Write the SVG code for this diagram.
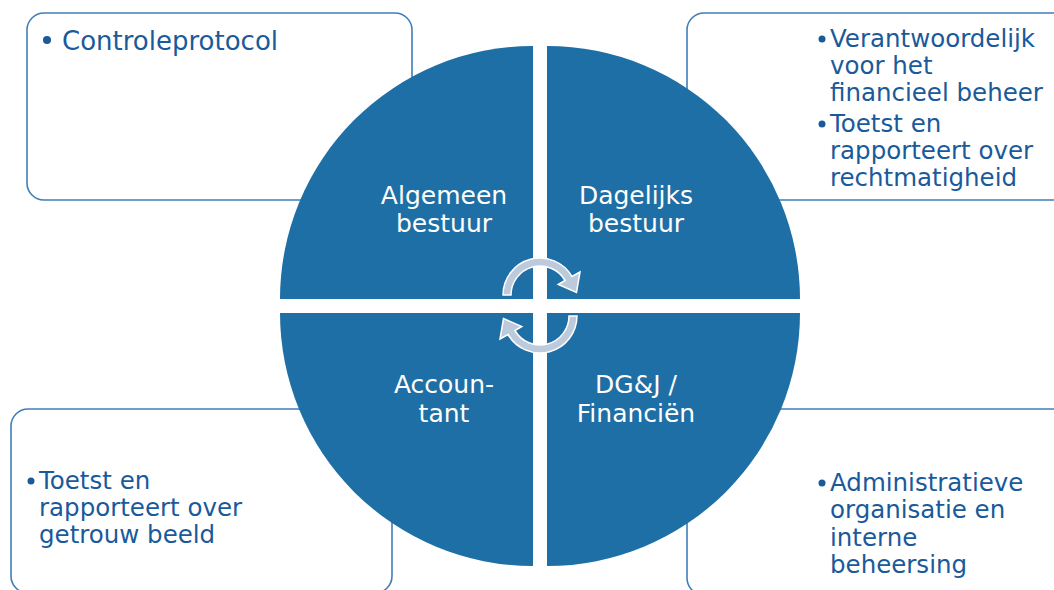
<svg xmlns="http://www.w3.org/2000/svg" width="1054" height="590" viewBox="0 0 1054 590">
<style>
.box{fill:#ffffff;stroke:#3f7fb8;stroke-width:1.6}
.q{fill:#1e6fa5}
.bt{font-family:"DejaVu Sans",Verdana,sans-serif;font-size:24.5px;fill:#1a5a9a}
.ct{font-family:"DejaVu Sans",Verdana,sans-serif;font-size:25px;fill:#ffffff;text-anchor:middle}
.dot{fill:#1a5a9a}
.arr{fill:#bccadb;stroke:#ffffff;stroke-width:1.5}
</style>
<rect width="1054" height="590" fill="#ffffff"/>
<g id="box-controleprotocol">
<rect class="box" x="27" y="13" width="385" height="187" rx="17"/>
<circle class="dot" cx="47" cy="40" r="4"/>
<text class="bt" x="62" y="50" style="font-size:26px">Controleprotocol</text>
</g>
<g id="box-dagelijks">
<rect class="box" x="687" y="13" width="400" height="187" rx="17"/>
<circle class="dot" cx="822" cy="39" r="3.5"/>
<text class="bt" x="830" y="47">Verantwoordelijk</text>
<text class="bt" x="830" y="74">voor het</text>
<text class="bt" x="830" y="101">financieel beheer</text>
<circle class="dot" cx="822" cy="124" r="3.5"/>
<text class="bt" x="830" y="132">Toetst en</text>
<text class="bt" x="830" y="159">rapporteert over</text>
<text class="bt" x="830" y="186">rechtmatigheid</text>
</g>
<g id="box-accountant">
<rect class="box" x="11" y="409" width="381" height="184" rx="17"/>
<circle class="dot" cx="31" cy="481" r="3.5"/>
<text class="bt" x="39" y="489">Toetst en</text>
<text class="bt" x="39" y="516">rapporteert over</text>
<text class="bt" x="39" y="543">getrouw beeld</text>
</g>
<g id="box-financien">
<rect class="box" x="687" y="409" width="400" height="186" rx="17"/>
<circle class="dot" cx="822" cy="483" r="3.5"/>
<text class="bt" x="830" y="491">Administratieve</text>
<text class="bt" x="830" y="518">organisatie en</text>
<text class="bt" x="830" y="546">interne</text>
<text class="bt" x="830" y="573">beheersing</text>
</g>
<g id="node-algemeen-bestuur">
<path class="q" d="M533 299 L280 299 A253 253 0 0 1 533 46 Z"/>
<text class="ct" x="444" y="204">Algemeen</text>
<text class="ct" x="444" y="232">bestuur</text>
</g>
<g id="node-dagelijks-bestuur">
<path class="q" d="M547 299 L547 46 A253 253 0 0 1 800 299 Z"/>
<text class="ct" x="636" y="204">Dagelijks</text>
<text class="ct" x="636" y="232">bestuur</text>
</g>
<g id="node-financien">
<path class="q" d="M547 313 L800 313 A253 253 0 0 1 547 566 Z"/>
<text class="ct" x="636" y="393">DG&amp;J /</text>
<text class="ct" x="636" y="422">Financiën</text>
</g>
<g id="node-accountant">
<path class="q" d="M533 313 L533 566 A253 253 0 0 1 280 313 Z"/>
<text class="ct" x="444" y="393">Accoun-</text>
<text class="ct" x="444" y="422">tant</text>
</g>
<g id="connectors">
<path id="arrow-top" class="arr" d="M503 295 A37 37 0 0 1 572 276.5 L580 272 L576.5 292.5 L558.2 284.5 L565.1 280.5 A29 29 0 0 0 511 295 Z"/>
<path id="arrow-bottom" class="arr" transform="rotate(180 540 305.5)" d="M503 295 A37 37 0 0 1 572 276.5 L580 272 L576.5 292.5 L558.2 284.5 L565.1 280.5 A29 29 0 0 0 511 295 Z"/>
</g>
</svg>
